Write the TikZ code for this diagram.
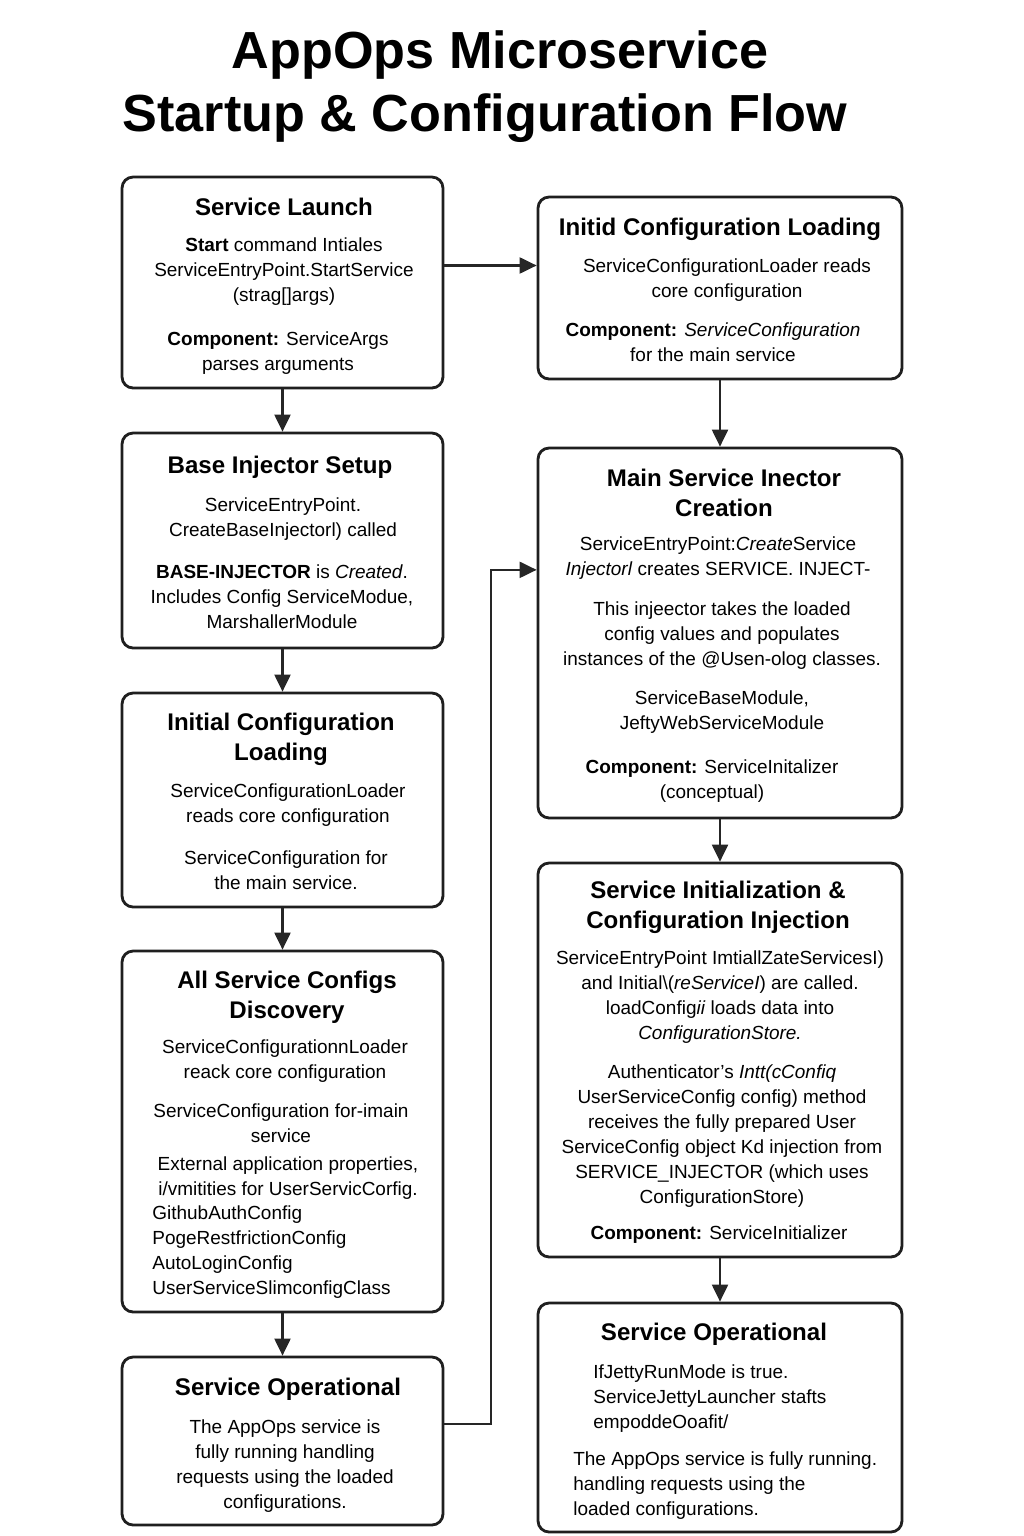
\documentclass[tikz,border=0pt]{standalone}
\usepackage{fontspec}
\setmainfont{Liberation Sans}
\usepackage{tikz}
\usetikzlibrary{positioning}
\usetikzlibrary{arrows.meta}

\begin{document}
\begin{tikzpicture}
		[
			x = 0.02cm, y = -0.02cm,
			stepbox/.style = {rectangle, rounded corners = 0.22cm, draw = black!88, line width = 1.6pt, fill = white},
			leftbox/.style = {stepbox, minimum width = 6.42cm},
			rightbox/.style = {stepbox, minimum width = 7.28cm},
			headline/.style = {font = \fontsize{29.7}{36}\selectfont\bfseries, inner sep = 0cm, anchor = base},
			boxtitle/.style = {font = \fontsize{13.7}{17}\selectfont\bfseries, align = center, inner sep = 0cm, yshift = -0.04cm},
			boxtext/.style = {font = \fontsize{10.8}{14.2}\selectfont, align = center, inner sep = 0cm, yshift = -0.06cm},
			boxlist/.style = {boxtext, align = left, anchor = west},
			flow/.style = {line width = 1.2pt, draw = black!85, -{Triangle[length = 0.34cm, width = 0.32cm]}},
		]
			%
			\path [use as bounding box, fill = white] (0,0) rectangle (1024,1536);
			%
			\node (title1) [headline] at (500,68) {AppOps Microservice};
			\node (title2) [headline] at (485,131) {Startup \& Configuration Flow};
			%
			\node (b1) [leftbox, minimum height = 4.22cm] at (282.5,282.5) {};
			\node (b2) [leftbox, minimum height = 4.30cm] at (282.5,540.5) {};
			\node (b3) [leftbox, minimum height = 4.28cm] at (282.5,800) {};
			\node (b4) [leftbox, minimum height = 7.22cm] at (282.5,1131.5) {};
			\node (b5) [leftbox, minimum height = 3.36cm] at (282.5,1441) {};
			%
			\node (r1) [rightbox, minimum height = 3.64cm] at (720,288) {};
			\node (r2) [rightbox, minimum height = 7.40cm] at (720,633) {};
			\node (r3) [rightbox, minimum height = 7.88cm] at (720,1060) {};
			\node (r4) [rightbox, minimum height = 4.58cm] at (720,1417.5) {};
			%
			\node (b1title) [boxtitle] at (284,205) {Service Launch};
			\node (b1a) [boxtext] at (284,269) {\textbf{Start} command Intiales\\ServiceEntryPoint.StartService\\(strag[]args)};
			\node (b1b) [boxtext] at (278,350.5) {\textbf{Component:} ServiceArgs\\parses arguments};
			%
			\node (b2title) [boxtitle] at (280,465) {Base Injector Setup};
			\node (b2a) [boxtext] at (283,516.5) {ServiceEntryPoint.\\CreateBaseInjectorl) called};
			\node (b2b) [boxtext] at (282,593.7) {\textbf{BASE-INJECTOR} is \textit{Created}.\\Includes Config ServiceModue,\\MarshallerModule};
			%
			\node (b3title) [boxtitle] at (281,737.5) {Initial Configuration\\Loading};
			\node (b3a) [boxtext] at (288,802.5) {ServiceConfigurationLoader\\reads core configuration};
			\node (b3b) [boxtext] at (286,867.5) {ServiceConfiguration for\\the main service.};
			%
			\node (b4title) [boxtitle] at (287,995) {All Service Configs\\Discovery};
			\node (b4a) [boxtext] at (285,1058.5) {ServiceConfigurationnLoader\\reack core configuration};
			\node (b4b) [boxtext] at (281,1120.5) {ServiceConfiguration for-imain\\service};
			\node (b4c) [boxtext] at (288,1175.5) {External application properties,\\i/vmitities for UserServicCorfig.};
			\node (b4d) [boxlist] at (152,1249) {GithubAuthConfig\\PogeRestfrictionConfig\\AutoLoginConfig\\UserServiceSlimconfigClass};
			%
			\node (b5title) [boxtitle] at (288,1387) {Service Operational};
			\node (b5a) [boxtext] at (285,1463) {The AppOps service is\\fully running handling\\requests using the loaded\\configurations.};
			%
			\node (r1title) [boxtitle] at (720,227) {Initid Configuration Loading};
			\node (r1a) [boxtext] at (727,277.5) {ServiceConfigurationLoader reads\\core configuration};
			\node (r1b) [boxtext] at (713,339.5) {\textbf{Component:} \textit{ServiceConfiguration}\\for the main service};
			%
			\node (r2title) [boxtitle] at (724,491) {Main Service Inector\\Creation};
			\node (r2a) [boxtext] at (718,555.5) {ServiceEntryPoint:\textit{Create}Service\\\textit{Injectorl} creates SERVICE. INJECT-};
			\node (r2b) [boxtext] at (722,633) {This injeector takes the loaded\\config values and populates\\instances of the @Usen-olog classes.};
			\node (r2c) [boxtext] at (722,709) {ServiceBaseModule,\\JeftyWebServiceModule};
			\node (r2d) [boxtext] at (712,778.5) {\textbf{Component:} ServiceInitalizer\\(conceptual)};
			%
			\node (r3title) [boxtitle] at (718,905) {Service Initialization \&\\Configuration Injection};
			\node (r3a) [boxtext] at (720,994) {ServiceEntryPoint ImtiallZateServicesI)\\and Initial\textbackslash(\textit{reServiceI}) are called.\\loadConfig\textit{ii} loads data into\\\textit{ConfigurationStore.}};
			\node (r3b) [boxtext] at (722,1132.8) {Authenticator's \textit{Intt(cConfiq}\\UserServiceConfig config) method\\receives the fully prepared User\\ServiceConfig object Kd injection from\\SERVICE\_INJECTOR (which uses\\ConfigurationStore)};
			\node (r3c) [boxtext] at (719,1232) {\textbf{Component:} ServiceInitializer};
			%
			\node (r4title) [boxtitle] at (714,1332) {Service Operational};
			\node (r4a) [boxlist] at (593,1395.7) {IfJettyRunMode is true.\\ServiceJettyLauncher stafts\\empoddeOoafit/};
			\node (r4b) [boxlist] at (573,1483) {The AppOps service is fully running.\\handling requests using the\\loaded configurations.};
			%
			\draw [flow] (b1.south) -- (b2.north);
			\draw [flow] (b2.south) -- (b3.north);
			\draw [flow] (b3.south) -- (b4.north);
			\draw [flow] (b4.south) -- (b5.north);
			\draw [flow] (r1.south) -- (r2.north);
			\draw [flow] (r2.south) -- (r3.north);
			\draw [flow] (r3.south) -- (r4.north);
			\draw [flow] (b1.6) -- (b1.6 -| r1.west);
			\draw [flow] (b5.6) -- ++(47,0) |- (r2.161);
			%
		\end{tikzpicture}
\end{document}
